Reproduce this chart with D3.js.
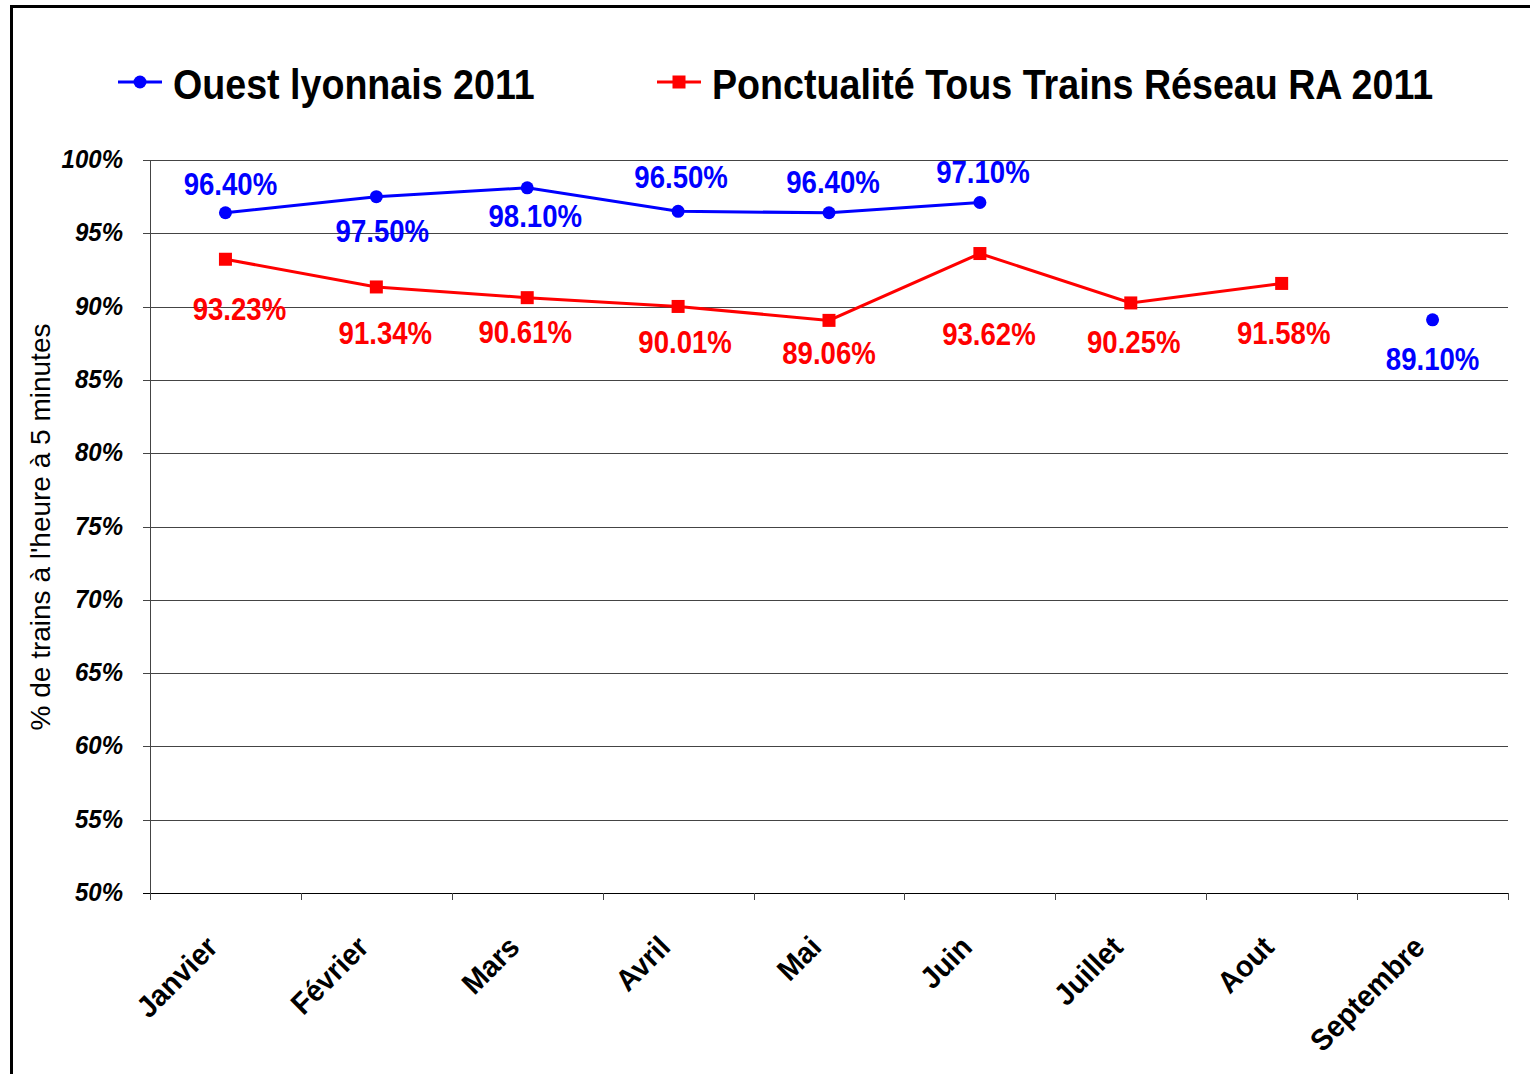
<!DOCTYPE html>
<html>
<head>
<meta charset="utf-8">
<script src="https://cdn.jsdelivr.net/npm/d3@7"></script>
<style>
  body { margin: 0; background: #fff; }
  svg { display: block; }
  .narrow { font-family: "Liberation Sans Narrow", "Arial Narrow", "Liberation Sans", sans-serif; font-weight: bold; }
</style>
</head>
<body>
<div id="chart"></div>
<script>
// categories and series values
const months = ["Janvier", "Février", "Mars", "Avril", "Mai", "Juin", "Juillet", "Aout", "Septembre"];
const ouestLyonnais = [96.40, 97.50, 98.10, 96.50, 96.40, 97.10, null, null, 89.10];
const reseauRA = [93.23, 91.34, 90.61, 90.01, 89.06, 93.62, 90.25, 91.58, null];
const yTicks = [50, 55, 60, 65, 70, 75, 80, 85, 90, 95, 100];

// label placement (pixels, relative to each point)
const blueLabelDx = [5, 6, 8, 3, 4, 3, 0, 0, 0];
const blueLabelDy = [-29, 34, 28, -34, -31, -31, 0, 0, 39];
const redLabelDx = [14, 9, -2, 7, 0, 9, 3, 2, 0];
const redLabelDy = [50, 46, 34, 36, 33, 80, 39, 50, 0];

// no narrow font installed: squeeze the bold text horizontally
const squeeze = 0.89;

const W = 1530, H = 1074;
const margin = { top: 160, right: 22, bottom: 181, left: 150 };
const width = W - margin.left - margin.right,
    height = H - margin.top - margin.bottom;

const svg = d3.select("#chart").append("svg")
    .attr("width", W).attr("height", H);

// outer frame
svg.append("rect")
    .attr("x", 11.5).attr("y", 6.5)
    .attr("width", W).attr("height", H)
    .attr("fill", "none").attr("stroke", "#000").attr("stroke-width", 3);

const x = d3.scaleBand().domain(months).range([0, width]);
const y = d3.scaleLinear().domain([50, 100]).range([height, 0]);

const g = svg.append("g").attr("transform", `translate(${margin.left},${margin.top})`);

// gridlines
g.append("g").selectAll("line").data(yTicks).join("line")
    .attr("x1", -7).attr("x2", width)
    .attr("y1", d => Math.round(y(d)) + 0.5).attr("y2", d => Math.round(y(d)) + 0.5)
    .attr("stroke", d => d == 50 ? "#000" : "#444").attr("stroke-width", 1);

// y axis line
g.append("line").attr("x1", 0.5).attr("x2", 0.5).attr("y1", 0).attr("y2", height + 7)
    .attr("stroke", "#444");

// x ticks
g.append("g").selectAll("line").data(months.map((m, i) => i).concat([months.length])).join("line")
    .attr("x1", i => Math.round(i * x.step()) + 0.5).attr("x2", i => Math.round(i * x.step()) + 0.5)
    .attr("y1", height).attr("y2", height + 7)
    .attr("stroke", "#444");

// y tick labels
g.append("g").selectAll("text").data(yTicks).join("text")
    .attr("class", "narrow")
    .attr("transform", d => `translate(-27,${y(d) + 8}) scale(0.96,1)`)
    .attr("text-anchor", "end")
    .attr("font-size", 25).attr("font-style", "italic")
    .text(d => d + "%");

// x tick labels
g.append("g").selectAll("text").data(months).join("text")
    .attr("class", "narrow")
    .attr("transform", d => `translate(${x(d) + x.bandwidth() / 2 - 6},${height + 56}) rotate(-45) scale(0.95,1)`)
    .attr("text-anchor", "end")
    .attr("font-size", 30)
    .text(d => d);

// y axis title
svg.append("text")
    .attr("transform", `translate(50,${margin.top + 367}) rotate(-90)`)
    .attr("text-anchor", "middle")
    .attr("font-family", "Liberation Sans, Arial, sans-serif")
    .attr("font-size", 28)
    .text("% de trains à l'heure à 5 minutes");

const cx = i => x(months[i]) + x.bandwidth() / 2;

function drawSeries(values, color, marker, dxs, dys) {
    const pts = values.map((v, i) => ({ v, i })).filter(d => d.v !== null);
    g.append("path")
        .datum(values.map((v, i) => ({ v, i })))
        .attr("fill", "none").attr("stroke", color).attr("stroke-width", 3)
        .attr("d", d3.line().defined(d => d.v !== null).x(d => cx(d.i)).y(d => y(d.v)));
    if (marker == "circle") {
        g.append("g").selectAll("circle").data(pts).join("circle")
            .attr("cx", d => cx(d.i)).attr("cy", d => y(d.v)).attr("r", 6.5).attr("fill", color);
    } else {
        g.append("g").selectAll("rect").data(pts).join("rect")
            .attr("x", d => cx(d.i) - 6.5).attr("y", d => y(d.v) - 6.5)
            .attr("width", 13).attr("height", 13).attr("fill", color);
    }
    g.append("g").selectAll("text").data(pts).join("text")
        .attr("class", "narrow")
        .attr("transform", d => `translate(${cx(d.i) + dxs[d.i]},${y(d.v) + dys[d.i] + 11}) scale(${squeeze},1)`)
        .attr("text-anchor", "middle")
        .attr("font-size", 31)
        .attr("fill", color)
        .text(d => d.v.toFixed(2) + "%");
}

drawSeries(reseauRA, "#ff0000", "square", redLabelDx, redLabelDy);
drawSeries(ouestLyonnais, "#0000ff", "circle", blueLabelDx, blueLabelDy);

// legend
const legend = [
    { name: "Ouest lyonnais 2011", color: "#0000ff", marker: "circle", x: 118 },
    { name: "Ponctualité Tous Trains Réseau RA 2011", color: "#ff0000", marker: "square", x: 657 }
];
const lg = svg.append("g").selectAll("g").data(legend).join("g")
    .attr("transform", d => `translate(${d.x},82)`);
lg.append("line").attr("x1", 0).attr("x2", 44).attr("stroke", d => d.color).attr("stroke-width", 3);
lg.filter(d => d.marker == "circle").append("circle").attr("cx", 22).attr("r", 6.5).attr("fill", d => d.color);
lg.filter(d => d.marker == "square").append("rect").attr("x", 15.5).attr("y", -6.5)
    .attr("width", 13).attr("height", 13).attr("fill", d => d.color);
lg.append("text").attr("class", "narrow")
    .attr("transform", `translate(55,17) scale(0.875,1)`)
    .attr("font-size", 43)
    .text(d => d.name);
</script>
</body>
</html>
